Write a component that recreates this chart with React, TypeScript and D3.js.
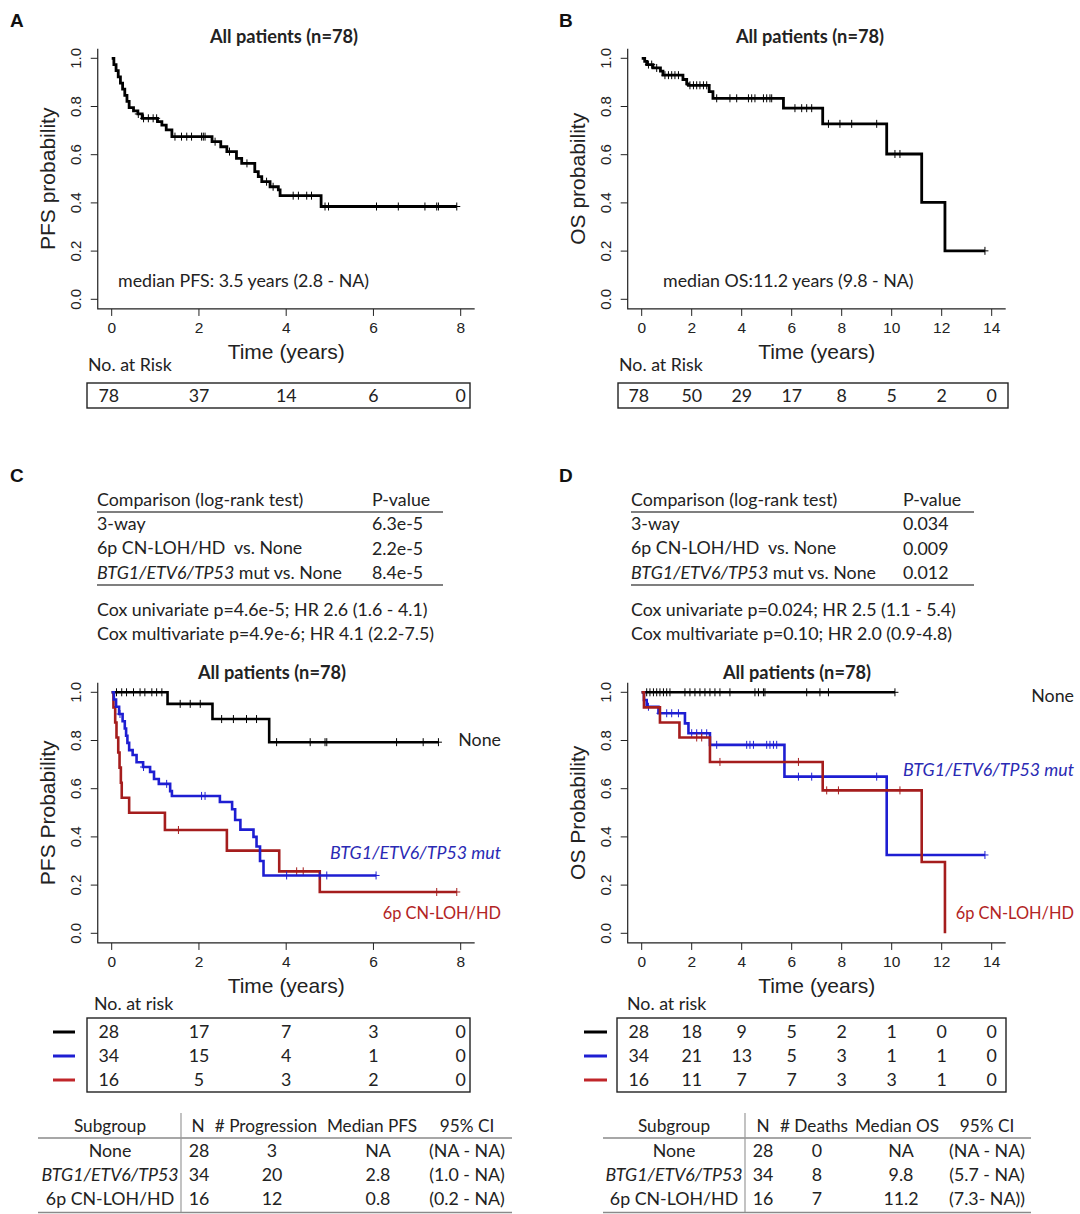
import React from "react";
import * as d3 from "d3";

const F_AX = "'Liberation Sans', Arial, Helvetica, sans-serif";
const F_CAL = "Lato, 'Open Sans', sans-serif";
const FS = 17.8;

const BLACK = "#000000";
const BLUE = "#1e1ed2";
const RED = "#a51d1d";
const BLUE_TXT = "#2a2ab4";
const RED_TXT = "#b22424";

// ---------- Panel A: PFS, all patients ----------
const pfsAllT = [0, 0.05, 0.10, 0.15, 0.20, 0.25, 0.30, 0.35, 0.40, 0.50, 0.60, 0.70, 1.05, 1.15, 1.25, 1.38, 2.30, 2.50, 2.64, 2.86, 2.98, 3.28, 3.36, 3.44, 3.63, 3.82, 3.86, 4.80];
const pfsAllS = [1, 0.974, 0.949, 0.923, 0.897, 0.872, 0.846, 0.821, 0.795, 0.782, 0.769, 0.751, 0.737, 0.723, 0.703, 0.675, 0.654, 0.633, 0.613, 0.585, 0.564, 0.530, 0.509, 0.488, 0.467, 0.454, 0.430, 0.385];
const pfsAllEnd = 7.91;
const pfsAllCens = [0.61, 0.73, 0.84, 0.95, 1.03, 1.45, 1.60, 1.72, 1.83, 2.06, 2.10, 2.14, 2.37, 2.70, 3.10, 3.55, 3.70, 4.16, 4.28, 4.47, 4.58, 4.89, 4.97, 6.07, 6.57, 7.18, 7.45, 7.49, 7.91];

// ---------- Panel B: OS, all patients ----------
const osAllT = [0, 0.12, 0.20, 0.45, 0.75, 0.85, 1.65, 1.80, 1.87, 2.70, 2.85, 5.67, 7.24, 9.80, 11.20, 12.13];
const osAllS = [1, 0.987, 0.974, 0.960, 0.947, 0.930, 0.912, 0.894, 0.888, 0.862, 0.834, 0.793, 0.728, 0.603, 0.402, 0.201];
const osAllEnd = 13.73;
const osAllCens = [0.27, 0.40, 0.60, 0.93, 1.07, 1.20, 1.33, 1.47, 1.93, 2.07, 2.20, 2.33, 2.47, 2.60, 3.00, 3.53, 3.80, 4.27, 4.40, 4.53, 4.87, 5.00, 5.13, 5.20, 6.13, 6.40, 6.60, 6.80, 7.47, 7.93, 8.40, 9.40, 10.13, 10.33, 13.73];

// ---------- Panel C: PFS by subgroup ----------
const pfsNoneT = [0, 1.28, 2.31, 3.61];
const pfsNoneS = [1, 0.952, 0.889, 0.793];
const pfsNoneEnd = 7.49;
const pfsNoneCens = [0.11, 0.23, 0.34, 0.50, 0.65, 0.76, 0.92, 1.03, 1.15, 1.57, 1.80, 2.03, 2.52, 2.79, 3.09, 3.32, 3.78, 4.55, 4.89, 4.93, 6.53, 7.14, 7.49];

const pfsMutT = [0, 0.05, 0.10, 0.17, 0.25, 0.30, 0.33, 0.36, 0.40, 0.48, 0.57, 0.72, 0.88, 0.97, 1.08, 1.34, 1.38, 2.48, 2.76, 2.83, 2.95, 3.25, 3.32, 3.40, 3.48];
const pfsMutS = [1, 0.97, 0.94, 0.91, 0.88, 0.85, 0.82, 0.79, 0.76, 0.74, 0.71, 0.69, 0.67, 0.64, 0.62, 0.59, 0.57, 0.545, 0.515, 0.47, 0.43, 0.40, 0.36, 0.30, 0.24];
const pfsMutEnd = 6.06;
const pfsMutCens = [0.19, 0.73, 1.26, 2.06, 2.14, 4.01, 4.77, 4.93, 6.06];

const pfs6pT = [0, 0.04, 0.08, 0.11, 0.15, 0.18, 0.21, 0.23, 0.40, 1.22, 2.64, 3.84, 4.77];
const pfs6pS = [1, 0.9375, 0.875, 0.8125, 0.75, 0.6875, 0.625, 0.5625, 0.50, 0.4286, 0.3429, 0.2571, 0.1714];
const pfs6pEnd = 7.91;
const pfs6pCens = [1.53, 4.24, 4.39, 7.45, 7.91];

// ---------- Panel D: OS by subgroup ----------
const osNoneT = [0];
const osNoneS = [1];
const osNoneEnd = 10.13;
const osNoneCens = [0.2, 0.33, 0.47, 0.6, 0.73, 0.87, 1.0, 1.13, 1.73, 1.93, 2.13, 2.33, 2.53, 2.73, 2.93, 3.13, 3.53, 4.53, 4.67, 4.87, 4.93, 6.6, 7.13, 7.47, 10.13];

const osMutT = [0, 0.09, 0.20, 0.67, 1.73, 1.87, 2.73, 5.71, 9.80];
const osMutS = [1, 0.968, 0.94, 0.913, 0.871, 0.830, 0.782, 0.650, 0.325];
const osMutEnd = 13.73;
const osMutCens = [0.27, 0.73, 1.0, 1.2, 1.47, 2.0, 2.2, 2.4, 2.6, 3.0, 4.2, 4.33, 4.47, 5.0, 5.13, 5.27, 5.4, 6.27, 6.8, 7.27, 9.4, 13.73];

const os6pT = [0, 0.09, 0.73, 1.51, 2.73, 7.24, 11.2, 12.13];
const os6pS = [1, 0.9375, 0.875, 0.8125, 0.711, 0.593, 0.296, 0];
const os6pEnd = 12.13;
const os6pCens = [2.2, 2.4, 3.13, 6.27, 7.4, 7.87, 10.33];

// ---------- ticks & risk tables ----------
const yTicks = [0, 0.2, 0.4, 0.6, 0.8, 1.0];
const pfsTicks = [0, 2, 4, 6, 8];
const osTicks = [0, 2, 4, 6, 8, 10, 12, 14];

const riskA = [78, 37, 14, 6, 0];
const riskB = [78, 50, 29, 17, 8, 5, 2, 0];
const riskCNone = [28, 17, 7, 3, 0];
const riskCMut = [34, 15, 4, 1, 0];
const riskC6p = [16, 5, 3, 2, 0];
const riskDNone = [28, 18, 9, 5, 2, 1, 0, 0];
const riskDMut = [34, 21, 13, 5, 3, 1, 1, 0];
const riskD6p = [16, 11, 7, 7, 3, 3, 1, 0];

// ---------- text tables ----------
const compPFS = ["6.3e-5", "2.2e-5", "8.4e-5"];
const compOS = ["0.034", "0.009", "0.012"];
const coxPFS = ["Cox univariate p=4.6e-5; HR 2.6 (1.6 - 4.1)", "Cox multivariate p=4.9e-6; HR 4.1 (2.2-7.5)"];
const coxOS = ["Cox univariate p=0.024; HR 2.5 (1.1 - 5.4)", "Cox multivariate p=0.10; HR 2.0 (0.9-4.8)"];

const subgroups = ["None", "BTG1/ETV6/TP53", "6p CN-LOH/HD"];
const subN = [28, 34, 16];
const pfsEvents = [3, 20, 12];
const pfsMedian = ["NA", "2.8", "0.8"];
const pfsCI = ["(NA - NA)", "(1.0 - NA)", "(0.2 - NA)"];
const osEvents = [0, 8, 7];
const osMedian = ["NA", "9.8", "11.2"];
const osCI = ["(NA - NA)", "(5.7 - NA)", "(7.3- NA))"];

type Curve = { t: number[]; s: number[]; end: number; cens: number[]; color: string };

function KMCurve({ x, y, c, w }: { x: any; y: any; c: Curve; w: number }) {
  const pts: [number, number][] = c.t.map((t, i) => [t, c.s[i]] as [number, number]);
  pts.push([c.end, c.s[c.s.length - 1]]);
  const line = d3
    .line<[number, number]>()
    .x((d) => x(d[0]))
    .y((d) => y(d[1]))
    .curve(d3.curveStepAfter);
  const sAt = (tt: number) => {
    const i = d3.bisectRight(c.t, tt) - 1;
    return c.s[Math.max(0, i)];
  };
  return (
    <g>
      <path d={line(pts) || ""} fill="none" stroke={c.color} strokeWidth={w} strokeLinejoin="miter" />
      {c.cens.map((ct, i) => {
        const cx = x(ct);
        const cy = y(sAt(ct));
        return (
          <path
            key={i}
            d={`M${cx},${cy - 4}V${cy + 4}M${cx - 3.5},${cy}H${cx + 3.5}`}
            stroke={c.color}
            strokeWidth={1}
            fill="none"
          />
        );
      })}
    </g>
  );
}

function Axes({ x, y, xTicks, xMax, ylab }: { x: any; y: any; xTicks: number[]; xMax: number; ylab: string }) {
  const left = x(-0.04 * xMax);
  const right = x(xMax * 1.04);
  const top = y(1.04);
  const bottom = y(-0.04);
  const midY = (y(0) + y(1)) / 2;
  const midX = (x(0) + x(xMax)) / 2;
  return (
    <g fontFamily={F_AX} fill="#222">
      <path d={`M${left},${top}V${bottom}H${right}`} fill="none" stroke="#222" strokeWidth={1.2} />
      {yTicks.map((v) => (
        <g key={"y" + v}>
          <line x1={left - 7} x2={left} y1={y(v)} y2={y(v)} stroke="#222" strokeWidth={1} />
          <text transform={`translate(${left - 22},${y(v)}) rotate(-90)`} textAnchor="middle" dy="0.35em" fontSize={15}>
            {d3.format(".1f")(v)}
          </text>
        </g>
      ))}
      {xTicks.map((v) => (
        <g key={"x" + v}>
          <line x1={x(v)} x2={x(v)} y1={bottom} y2={bottom + 7} stroke="#222" strokeWidth={1} />
          <text x={x(v)} y={bottom + 19} textAnchor="middle" dy="0.35em" fontSize={15.5}>
            {v}
          </text>
        </g>
      ))}
      <text x={midX} y={bottom + 43} textAnchor="middle" dy="0.35em" fontSize={21}>
        Time (years)
      </text>
      <text transform={`translate(${left - 50},${midY}) rotate(-90)`} textAnchor="middle" dy="0.35em" fontSize={21}>
        {ylab}
      </text>
    </g>
  );
}

function T(props: any) {
  const { children, ...rest } = props;
  return (
    <text fontFamily={F_CAL} fontSize={FS} fill="#222" dy="0.35em" {...rest}>
      {children}
    </text>
  );
}

function RiskRow({ x, ticks, vals, yy }: { x: any; ticks: number[]; vals: number[]; yy: number }) {
  return (
    <g>
      {vals.map((v, i) => (
        <T key={i} x={x(ticks[i]) - (i === 0 ? 3 : 0)} y={yy} textAnchor="middle">
          {v}
        </T>
      ))}
    </g>
  );
}

function CompTable({ x0, xp, vals, cox }: { x0: number; xp: number; vals: string[]; cox: string[] }) {
  const right = xp + 71;
  return (
    <g>
      <T x={x0} y={500}>Comparison (log-rank test)</T>
      <T x={xp} y={500}>P-value</T>
      <line x1={x0} x2={right} y1={512} y2={512} stroke="#555" strokeWidth={1.6} />
      <T x={x0} y={524}>3-way</T>
      <T x={x0} y={548} style={{ whiteSpace: "pre" }}>
        {"6p CN-LOH/HD  vs. None"}
      </T>
      <T x={x0} y={573}>
        <tspan fontStyle="italic">BTG1/ETV6/TP53</tspan>
        <tspan> mut vs. None</tspan>
      </T>
      {vals.map((v, i) => (
        <T key={i} x={xp} y={524 + i * 24.5}>
          {v}
        </T>
      ))}
      <line x1={x0} x2={right} y1={585} y2={585} stroke="#555" strokeWidth={1.6} />
      {cox.map((c, i) => (
        <T key={"c" + i} x={x0} y={610 + i * 24}>
          {c}
        </T>
      ))}
    </g>
  );
}

function SubTable({
  heads,
  headX,
  cols,
  vline,
  lx1,
  lx2,
  events,
  med,
  ci,
}: {
  heads: string[];
  headX: number[];
  cols: number[];
  vline: number;
  lx1: number;
  lx2: number;
  events: number[];
  med: string[];
  ci: string[];
}) {
  const rowY = [1151, 1175, 1199];
  return (
    <g>
      {heads.map((h, i) => (
        <T key={i} x={headX[i]} y={1126} textAnchor="middle" fontSize={17.2}>
          {h}
        </T>
      ))}
      <line x1={lx1} x2={lx2} y1={1138} y2={1138} stroke="#8a8a8a" strokeWidth={1.4} />
      <line x1={lx1} x2={lx2} y1={1212.5} y2={1212.5} stroke="#8a8a8a" strokeWidth={1.4} />
      <line x1={vline} x2={vline} y1={1113} y2={1212} stroke="#9a9a9a" strokeWidth={1.2} />
      {subgroups.map((s, i) => (
        <g key={s}>
          <T x={cols[0]} y={rowY[i]} textAnchor="middle" fontStyle={i === 1 ? "italic" : "normal"}>
            {s}
          </T>
          <T x={cols[1]} y={rowY[i]} textAnchor="middle">
            {subN[i]}
          </T>
          <T x={cols[2]} y={rowY[i]} textAnchor="middle">
            {events[i]}
          </T>
          <T x={cols[3]} y={rowY[i]} textAnchor="middle">
            {med[i]}
          </T>
          <T x={cols[4]} y={rowY[i]} textAnchor="middle">
            {ci[i]}
          </T>
        </g>
      ))}
    </g>
  );
}

export default function App() {
  const xA = d3.scaleLinear().domain([0, 8]).range([111.7, 460.7]);
  const xB = d3.scaleLinear().domain([0, 14]).range([641.7, 991.7]);
  const yTop = d3.scaleLinear().domain([0, 1]).range([299.3, 58.3]);
  const yBot = d3.scaleLinear().domain([0, 1]).range([933.3, 692.3]);

  const cA: Curve = { t: pfsAllT, s: pfsAllS, end: pfsAllEnd, cens: pfsAllCens, color: BLACK };
  const cB: Curve = { t: osAllT, s: osAllS, end: osAllEnd, cens: osAllCens, color: BLACK };
  const cC: Curve[] = [
    { t: pfsNoneT, s: pfsNoneS, end: pfsNoneEnd, cens: pfsNoneCens, color: BLACK },
    { t: pfs6pT, s: pfs6pS, end: pfs6pEnd, cens: pfs6pCens, color: RED },
    { t: pfsMutT, s: pfsMutS, end: pfsMutEnd, cens: pfsMutCens, color: BLUE },
  ];
  const cD: Curve[] = [
    { t: osNoneT, s: osNoneS, end: osNoneEnd, cens: osNoneCens, color: BLACK },
    { t: osMutT, s: osMutS, end: osMutEnd, cens: osMutCens, color: BLUE },
    { t: os6pT, s: os6pS, end: os6pEnd, cens: os6pCens, color: RED },
  ];

  const riskRowsY = [1032, 1056, 1080];
  const legendColors = [BLACK, BLUE, "#c0262a"];

  return (
    <svg width={1080} height={1214} style={{ position: "absolute", left: 0, top: 0, display: "block", background: "#fff" }}>
      <rect x={0} y={0} width={1080} height={1214} fill="#fff" />
      <g fontFamily={F_AX} fontWeight="bold" fontSize={19} fill="#111">
        <text x={10} y={27}>A</text>
        <text x={559} y={27}>B</text>
        <text x={10} y={482}>C</text>
        <text x={559} y={482}>D</text>
      </g>

      {/* ---------- Panel A ---------- */}
      <T x={284} y={37} textAnchor="middle" fontWeight="bold" fontSize={18.2}>All patients (n=78)</T>
      <Axes x={xA} y={yTop} xTicks={pfsTicks} xMax={8} ylab="PFS probability" />
      <KMCurve x={xA} y={yTop} c={cA} w={2.8} />
      <T x={118} y={281}>median PFS: 3.5 years (2.8 - NA)</T>
      <T x={88} y={365}>No. at Risk</T>
      <rect x={87} y={383} width={383} height={25} fill="none" stroke="#222" strokeWidth={1.4} />
      <RiskRow x={xA} ticks={pfsTicks} vals={riskA} yy={396} />

      {/* ---------- Panel B ---------- */}
      <T x={810} y={37} textAnchor="middle" fontWeight="bold" fontSize={18.2}>All patients (n=78)</T>
      <Axes x={xB} y={yTop} xTicks={osTicks} xMax={14} ylab="OS probability" />
      <KMCurve x={xB} y={yTop} c={cB} w={2.8} />
      <T x={663} y={281}>median OS:11.2 years (9.8 - NA)</T>
      <T x={619} y={365}>No. at Risk</T>
      <rect x={618} y={383} width={390} height={25} fill="none" stroke="#222" strokeWidth={1.4} />
      <RiskRow x={xB} ticks={osTicks} vals={riskB} yy={396} />

      {/* ---------- Panel C ---------- */}
      <CompTable x0={97} xp={372} vals={compPFS} cox={coxPFS} />
      <T x={272} y={673} textAnchor="middle" fontWeight="bold" fontSize={18.2}>All patients (n=78)</T>
      <Axes x={xA} y={yBot} xTicks={pfsTicks} xMax={8} ylab="PFS Probability" />
      {cC.map((c, i) => (
        <KMCurve key={i} x={xA} y={yBot} c={c} w={2.6} />
      ))}
      <T x={501} y={740} textAnchor="end">None</T>
      <T x={501} y={853} textAnchor="end" fontStyle="italic" fill={BLUE_TXT}>BTG1/ETV6/TP53 mut</T>
      <T x={501} y={913} textAnchor="end" fill={RED_TXT} fontSize={16.4}>6p CN-LOH/HD</T>
      <T x={94} y={1004}>No. at risk</T>
      <rect x={87} y={1018} width={383} height={74} fill="none" stroke="#222" strokeWidth={1.4} />
      {[riskCNone, riskCMut, riskC6p].map((r, i) => (
        <g key={i}>
          <line x1={53} x2={75} y1={riskRowsY[i]} y2={riskRowsY[i]} stroke={legendColors[i]} strokeWidth={3} />
          <RiskRow x={xA} ticks={pfsTicks} vals={r} yy={riskRowsY[i]} />
        </g>
      ))}
      <SubTable
        heads={["Subgroup", "N", "# Progression", "Median PFS", "95% CI"]}
        headX={[110, 198, 266, 372, 467]}
        cols={[110, 199, 272, 378, 467]}
        vline={181}
        lx1={38}
        lx2={512}
        events={pfsEvents}
        med={pfsMedian}
        ci={pfsCI}
      />

      {/* ---------- Panel D ---------- */}
      <CompTable x0={631} xp={903} vals={compOS} cox={coxOS} />
      <T x={797} y={673} textAnchor="middle" fontWeight="bold" fontSize={18.2}>All patients (n=78)</T>
      <Axes x={xB} y={yBot} xTicks={osTicks} xMax={14} ylab="OS Probability" />
      {cD.map((c, i) => (
        <KMCurve key={i} x={xB} y={yBot} c={c} w={2.6} />
      ))}
      <T x={1074} y={696} textAnchor="end">None</T>
      <T x={1074} y={770} textAnchor="end" fontStyle="italic" fill={BLUE_TXT}>BTG1/ETV6/TP53 mut</T>
      <T x={1074} y={913} textAnchor="end" fill={RED_TXT} fontSize={16.4}>6p CN-LOH/HD</T>
      <T x={627} y={1004}>No. at risk</T>
      <rect x={617} y={1018} width={389} height={74} fill="none" stroke="#222" strokeWidth={1.4} />
      {[riskDNone, riskDMut, riskD6p].map((r, i) => (
        <g key={i}>
          <line x1={584} x2={607} y1={riskRowsY[i]} y2={riskRowsY[i]} stroke={legendColors[i]} strokeWidth={3} />
          <RiskRow x={xB} ticks={osTicks} vals={r} yy={riskRowsY[i]} />
        </g>
      ))}
      <SubTable
        heads={["Subgroup", "N", "# Deaths", "Median OS", "95% CI"]}
        headX={[674, 763, 814, 897, 987]}
        cols={[674, 763, 817, 901, 987]}
        vline={745}
        lx1={603}
        lx2={1031}
        events={osEvents}
        med={osMedian}
        ci={osCI}
      />
    </svg>
  );
}
